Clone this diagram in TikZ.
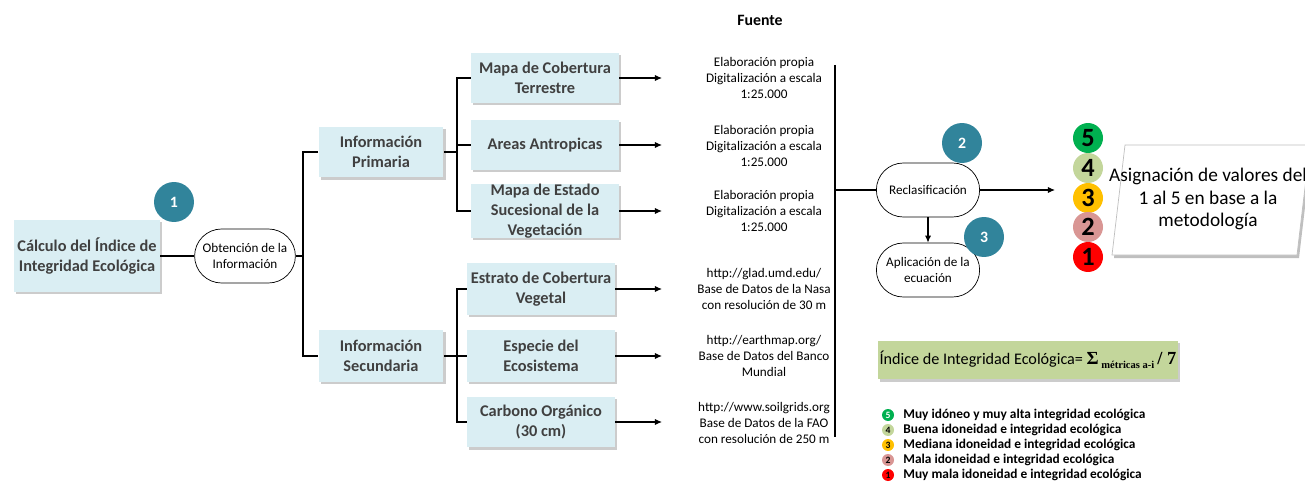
\documentclass[tikz,border=0pt]{standalone}
\usepackage{fontspec}
\setmainfont{Carlito}
\newfontfamily\timesbf{Liberation Serif}
\usetikzlibrary{positioning,shapes.misc,shadows,arrows.meta}

\definecolor{boxblue}{HTML}{DAEEF3}
\definecolor{boxtext}{HTML}{404040}
\definecolor{stepteal}{HTML}{31849B}
\definecolor{formgreen}{HTML}{C3D69B}
\definecolor{valfive}{HTML}{00B050}
\definecolor{valfour}{HTML}{C3D69B}
\definecolor{valthree}{HTML}{FFC000}
\definecolor{valtwo}{HTML}{D99694}
\definecolor{valone}{HTML}{FF0000}

\tikzset{
  infobox/.style={rectangle, fill=boxblue, text=boxtext, align=center,
    font=\bfseries\fontsize{9.3}{11.3}\selectfont, inner xsep=2pt, inner ysep=0pt,
    drop shadow={shadow xshift=1.2pt, shadow yshift=-1.2pt, opacity=.4}},
  procbox/.style={rounded rectangle, draw, fill=white, align=center,
    font=\fontsize{7.5}{9}\selectfont, minimum width=2.3cm, minimum height=1.08cm},
  stepmark/.style={circle, fill=stepteal, text=white, inner sep=0pt,
    font=\bfseries\fontsize{9}{10}\selectfont, minimum size=0.8cm},
  srctext/.style={font=\fontsize{7.5}{9}\selectfont, align=center},
  valdot/.style={circle, fill=#1, minimum size=0.6cm, inner sep=0pt,
    font=\bfseries\fontsize{15}{16}\selectfont},
  keydot/.style={circle, fill=#1, minimum size=0.24cm, inner sep=0pt,
    font=\bfseries\fontsize{5.5}{6}\selectfont},
  keytext/.style={anchor=west, inner sep=0pt, font=\bfseries\fontsize{7.6}{9}\selectfont},
  link/.style={line width=0.6pt},
  arr/.style={-{Latex[length=4pt,width=3.5pt]}, line width=0.6pt}
}

\begin{document}
\begin{tikzpicture}[x=0.02cm, y=-0.02cm]
\useasboundingbox (0,0) rectangle (1305,483);

% left part
\node[infobox, minimum width=2.92cm, minimum height=1.44cm] (calc) at (87,256) {Cálculo del Índice de\\Integridad Ecológica};
\node[procbox, minimum width=2.25cm] (obt) at (245,256) {Obtención de la\\Información};
\node[infobox, minimum width=2.5cm, minimum height=1.02cm] (prim) at (381,152) {Información\\Primaria};
\node[infobox, minimum width=2.5cm, minimum height=1.04cm] (sec) at (381,356) {Información\\Secundaria};

% data layers
\node[infobox, minimum width=2.96cm, minimum height=1.0cm] (mapcob) at (545,78) {Mapa de Cobertura\\Terrestre};
\node[infobox, minimum width=2.96cm, minimum height=1.0cm] (antrop) at (545,145) {Areas Antropicas};
\node[infobox, minimum width=2.96cm, minimum height=1.04cm] (mapsuc) at (545,211) {Mapa de Estado\\Sucesional de la\\Vegetación};
\node[infobox, minimum width=2.96cm, minimum height=1.04cm] (estrato) at (541,289) {Estrato de Cobertura\\Vegetal};
\node[infobox, minimum width=2.96cm, minimum height=1.04cm] (especie) at (541,356) {Especie del\\Ecosistema};
\node[infobox, minimum width=2.96cm, minimum height=1.02cm] (carbono) at (541,422) {Carbono Orgánico\\(30 cm)};

\coordinate (trunk) at (303,256);
\coordinate (pbranch) at (457,152);
\coordinate (sbranch) at (457,356);
\coordinate (tipx) at (662,0);

\draw[link] (calc.east) -- (obt.west);
\draw[link] (obt.east) -- (trunk);
\draw[link] (prim.west) -| (trunk) |- (sec.west);
\draw[link] (prim.east) -- (pbranch);
\draw[link] (mapcob.west) -| (pbranch) |- (mapsuc.west);
\draw[link] (antrop.west) -- (antrop.west -| pbranch);
\draw[link] (sec.east) -- (sbranch);
\draw[link] (estrato.west) -| (sbranch) |- (carbono.west);
\draw[link] (especie.west) -- (sbranch);

\foreach \n in {mapcob,antrop,mapsuc,estrato,especie,carbono}
  \draw[arr] (\n.east) -- (\n.east -| tipx);

% sources
\node[font=\bfseries\fontsize{9}{10}\selectfont] (fuente) at (760,20) {Fuente};
\node[srctext] (src1) at (764,78) {Elaboración propia\\Digitalización a escala\\1:25.000};
\node[srctext] (src2) at (764,146) {Elaboración propia\\Digitalización a escala\\1:25.000};
\node[srctext] (src3) at (764,211) {Elaboración propia\\Digitalización a escala\\1:25.000};
\node[srctext] (src4) at (764,289) {http://glad.umd.edu/\\Base de Datos de la Nasa\\con resolución de 30 m};
\node[srctext] (src5) at (764,356) {http://earthmap.org/\\Base de Datos del Banco\\Mundial};
\node[srctext] (src6) at (764,423) {http://www.soilgrids.org\\Base de Datos de la FAO\\con resolución de 250 m};

% processing
\coordinate (bartop) at (835,65);
\coordinate (barbot) at (835,437);
\coordinate (valin) at (1055,190);
\node[procbox] (reclas) at (928,190) {Reclasificación};
\node[procbox] (aplic) at (928,270) {Aplicación de la\\ecuación};
\draw[link] (bartop) -- (barbot);
\draw[link] (bartop |- reclas.west) -- (reclas.west);
\draw[arr] (reclas.south) -- (aplic.north);
\draw[arr] (reclas.east) -- (valin);

\node[stepmark] (step1) at (174,202) {1};
\node[stepmark] (step2) at (962,143) {2};
\node[stepmark] (step3) at (984,237) {3};

% values
\node[valdot=valfive] (v5) at (1088,138) {5};
\node[valdot=valfour] (v4) at (1088,168) {4};
\node[valdot=valthree] (v3) at (1088,198) {3};
\node[valdot=valtwo] (v2) at (1088,227) {2};
\node[valdot=valone] (v1) at (1088,257) {1};

\fill[black, opacity=.25] (1127,148) -- (1312,148) -- (1299,258) -- (1114,258) -- cycle;
\draw[gray!50, fill=white] (1125,145) -- (1310,145) -- (1297,255) -- (1112,255) -- cycle;
\node[align=center, font=\fontsize{11}{12.8}\selectfont] (asign) at (1208,199) {Asignación de valores del\\1 al 5 en base a la\\metodología};

% formula
\node[fill=formgreen, minimum width=5.9cm, minimum height=0.78cm, inner xsep=1pt,
  drop shadow={shadow xshift=1.2pt, shadow yshift=-1.2pt, opacity=.4}] (formula) at (1028,360)
  {\fontsize{9.2}{12}\selectfont Índice de Integridad Ecológica= {\timesbf\bfseries\fontsize{10.5}{12}\selectfont Σ\raisebox{-2pt}{\fontsize{6}{7}\selectfont\ métricas a-i}\,/ 7}};

% legend
\node[keydot=valfive, text=white] (k5) at (888,415) {5};
\node[keydot=valfour] (k4) at (888,430) {4};
\node[keydot=valthree] (k3) at (888,445) {3};
\node[keydot=valtwo] (k2) at (888,460) {2};
\node[keydot=valone] (k1) at (888,475) {1};
\node[keytext] (t5) at (903,415) {Muy idóneo y muy alta integridad ecológica};
\node[keytext] (t4) at (903,430) {Buena idoneidad e integridad ecológica};
\node[keytext] (t3) at (903,445) {Mediana idoneidad e integridad ecológica};
\node[keytext] (t2) at (903,460) {Mala idoneidad e integridad ecológica};
\node[keytext] (t1) at (903,475) {Muy mala idoneidad e integridad ecológica};
\end{tikzpicture}
\end{document}
